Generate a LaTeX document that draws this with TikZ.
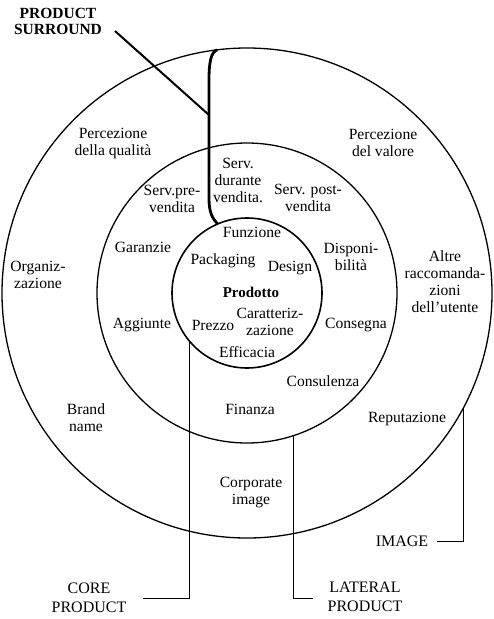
\documentclass[tikz,border=0pt]{standalone}
\usepackage{fontspec}
\setmainfont{Liberation Serif}
\begin{document}
\begin{tikzpicture}[x=1pt,y=-1pt,
  ring/.style={circle,draw,line width=1.3pt,inner sep=0pt,outer sep=0pt},
  lbl/.style={align=center,inner sep=0pt,font=\fontsize{15.6}{17}\selectfont},
  caplbl/.style={align=center,inner sep=0pt,font=\fontsize{16}{19.5}\selectfont},
  lead/.style={line width=1pt}]
\useasboundingbox (0,0) rectangle (494,619);
\node[ring,minimum size=490pt] (outer) at (247,293) {};
\node[ring,minimum size=300pt] (middle) at (247,293) {};
\node[ring,minimum size=150pt,line width=1.6pt] (inner) at (247,293) {};

\node[lbl] (pq) at (113,143) {Percezione\\della qualità};
\node[lbl] (pv) at (383,143) {Percezione\\del valore};
\node[lbl] (spre) at (172,199) {Serv.pre-\\vendita};
\node[lbl] (sdur) at (238,180) {Serv.\\durante\\vendita.};
\node[lbl] (spost) at (308,198) {Serv. post-\\vendita};
\node[lbl] (gar) at (143,247) {Garanzie};
\node[lbl] (fun) at (252,232) {Funzione};
\node[lbl] (pack) at (223,261) {Packaging};
\node[lbl] (des) at (290,268) {Design};
\node[lbl] (disp) at (351,257) {Disponi-\\bilità};
\node[lbl] (org) at (38,275) {Organiz-\\zazione};
\node[lbl,font=\fontsize{15}{17}\selectfont\bfseries] (prod) at (251,292) {Prodotto};
\node[lbl] (altre) at (445,282) {Altre\\raccomanda-\\zioni\\dell’utente};
\node[lbl] (car) at (270,322) {Caratteriz-\\zazione};
\node[lbl] (prez) at (213,325) {Prezzo};
\node[lbl] (agg) at (142,325) {Aggiunte};
\node[lbl] (cons) at (356,325) {Consegna};
\node[lbl] (eff) at (247,352) {Efficacia};
\node[lbl] (consu) at (323,381) {Consulenza};
\node[lbl] (fin) at (250,409) {Finanza};
\node[lbl] (brand) at (86,418) {Brand\\name};
\node[lbl] (rep) at (407,419) {Reputazione};
\node[lbl] (corp) at (251,493) {Corporate\\image};

\node[caplbl] (image) at (402,541) {IMAGE};
\node[caplbl] (core) at (89,598) {CORE\\PRODUCT};
\node[caplbl] (lateral) at (365,597) {LATERAL\\PRODUCT};
\node[caplbl,font=\fontsize{15.5}{16}\selectfont\bfseries] (ps) at (58,21) {PRODUCT\\SURROUND};

\coordinate (coreend) at (143,598);
\coordinate (latend) at (313,598);
\coordinate (imgend) at (437,541);
\coordinate (psstart) at (115,31);
\coordinate (psjoin) at (209,115);

\draw[lead] (inner.220.5) |- (coreend);
\draw[lead] (middle.288.3) |- (latend);
\draw[lead] (outer.332.35) |- (imgend);

\draw[line width=2.8pt] (outer.97) .. controls (211,52) and (209,62) .. (209,80)
  -- (209,198) .. controls (209,212) and (212,218) .. (inner.113);
\draw[line width=2pt] (psstart) -- (psjoin);
\end{tikzpicture}
\end{document}
